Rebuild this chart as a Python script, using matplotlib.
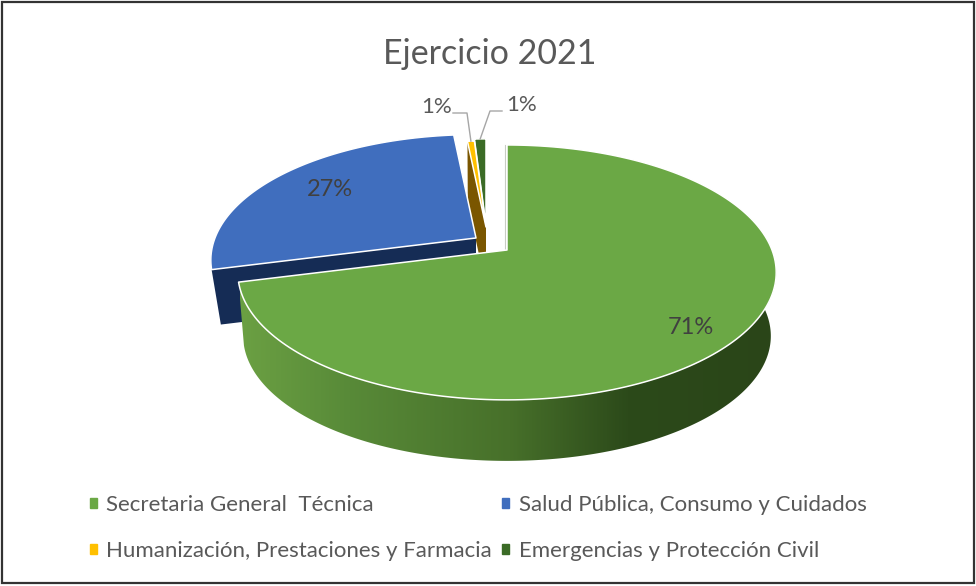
#!/usr/bin/env python3

import numpy as np
import matplotlib
matplotlib.use('Agg')
import matplotlib.pyplot as plt
from matplotlib.colors import LinearSegmentedColormap
from matplotlib.patches import Polygon, Patch, Rectangle

plt.rcParams['font.family']=['Lato','DejaVu Sans']

title='Ejercicio 2021'
areas=['Secretaria General  Técnica','Salud Pública, Consumo y Cuidados',
       'Humanización, Prestaciones y Farmacia','Emergencias y Protección Civil']
values=[71.0,27.4,0.6,1.0]
labels=['71%','27%','1%','1%']
colors=['#6BA845','#406EBE','#FFC000','#3B6B26']
sideColors=['#47702A','#152C55','#7A5600','#25451A']

GREY='#595959'
RX=265
A=123.5
B=0.176
DEPTH=[64,56,60,60]
BOTTOM=[0.98,0.965,0.98,0.98]
# centre of each slice once pulled out of the pie, and how far back it sits
centres=[(507,250),(476,238),(486,227),(486,225)]
scales=[1,0.985,0.82,0.82]

fig=plt.figure(figsize=(9.76,5.86),dpi=100)
ax=fig.add_axes([0,0,1,1])
ax.set_xlim(0,976)
ax.set_ylim(586,0)
ax.axis('off')

def rim(frac,i,scale=1,drop=0):
  ang=2*np.pi*np.asarray(frac)
  u=np.sin(ang)
  v=np.cos(ang)
  s=scales[i]*scale
  x=centres[i][0]+RX*s*u/(1+B*v)
  y=centres[i][1]-A*s*v/(1+B*v)+drop
  return np.column_stack([x,y])

edges=np.cumsum([0]+values)/sum(values)

def top(i,z):
  arc=rim(np.linspace(edges[i],edges[i+1],200),i)
  ax.add_patch(Polygon(np.vstack([centres[i],arc]),closed=True,fc=colors[i],ec='white',lw=1.1,zorder=z,joinstyle='round'))

def cutFace(i,frac,z):
  # wall showing where the slice was cut, runs from rim to centre and down
  d=DEPTH[i]
  pts=[rim(frac,i)[0],centres[i],(centres[i][0],centres[i][1]+d),rim(frac,i,BOTTOM[i],d)[0]]
  ax.add_patch(Polygon(pts,closed=True,fc=sideColors[i],ec='none',zorder=z))

# the small slices sit behind the blue one
cutFace(2,edges[2],1)
top(3,2)
top(2,3)

# blue slice, its cut face is on the green side
cutFace(1,edges[1],4)
top(1,5)

# green outer wall with the shading
fr=np.linspace(0.2,edges[1],300)
wall=np.vstack([rim(fr,0),rim(fr[::-1],0,BOTTOM[0],DEPTH[0])])
poly=Polygon(wall,closed=True,fc='none',ec='none',zorder=6)
ax.add_patch(poly)
shade=LinearSegmentedColormap.from_list('shade',[(0,'#6BA043'),(0.2,'#588A38'),(0.5,'#47702A'),(0.72,'#2C4A1A'),(1,'#2A4518')])
im=ax.imshow(np.linspace(0,1,400)[None,:],extent=(240,780,470,270),cmap=shade,aspect='auto',zorder=6)
im.set_clip_path(poly)
ax.set_xlim(0,976)
ax.set_ylim(586,0)

top(0,7)
inner=rim(0,0)[0]
ax.plot([inner[0]-2,centres[0][0]-2],[inner[1],centres[0][1]],color='#c8ccc4',lw=0.8,zorder=6)

# data labels
ax.text(691,328,labels[0],color='#404040',fontsize=17,ha='center',va='center',zorder=9)
ax.text(330,190,labels[1],color='#404040',fontsize=17,ha='center',va='center',zorder=9)
ax.text(437,107,labels[2],color=GREY,fontsize=16,ha='center',va='center',zorder=9)
ax.text(522,105,labels[3],color=GREY,fontsize=16,ha='center',va='center',zorder=9)

mid2=rim((edges[2]+edges[3])/2,2)[0]
mid3=rim((edges[3]+edges[4])/2,3)[0]
ax.plot([453,467,mid2[0]],[113,113,mid2[1]],color='#a6a6a6',lw=1,zorder=8)
ax.plot([502,490,mid3[0]],[111,111,mid3[1]],color='#a6a6a6',lw=1,zorder=8)

ax.text(490,54,title,color=GREY,fontsize=24.5,ha='center',va='center')

order=[0,2,1,3]
handles=[Patch(color=colors[i],label=areas[i]) for i in order]
ax.legend(handles=handles,ncol=2,loc='upper left',bbox_to_anchor=(0.092,0.155),frameon=False,
  fontsize=16,labelcolor=GREY,handlelength=0.32,handleheight=0.32,handletextpad=0.42,
  labelspacing=1.15,columnspacing=0.46,borderpad=0,borderaxespad=0)

ax.add_patch(Rectangle((2,2),972,581,fc='none',ec='#333333',lw=1.6,zorder=10))

fig.savefig('out.png',dpi=100)
